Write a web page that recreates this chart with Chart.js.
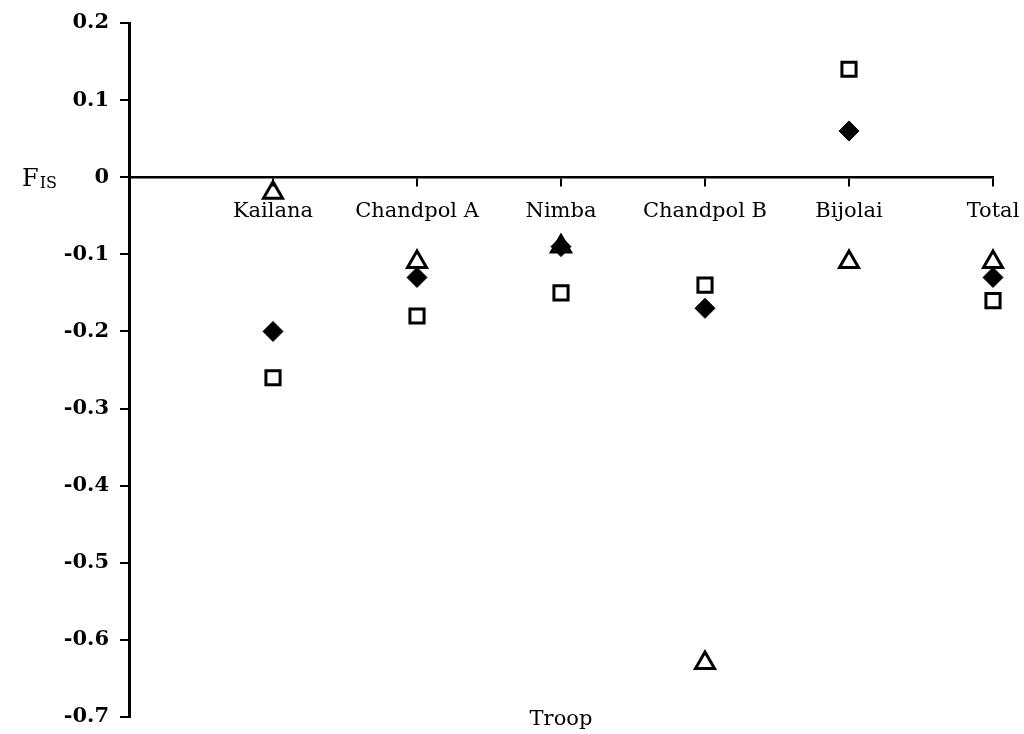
<!DOCTYPE html>
<html>
<head>
<meta charset="utf-8">
<script src="https://cdn.jsdelivr.net/npm/chart.js@4/dist/chart.umd.min.js"></script>
<style>
  body { margin: 0; background: #fff; }
  #wrap { width: 1024px; height: 734px; }
</style>
</head>
<body>
<div id="wrap"><canvas id="chart" width="1024" height="734"></canvas></div>
<script>
const troops = ['Kailana', 'Chandpol A', 'Nimba', 'Chandpol B', 'Bijolai', 'Total'];
const diamondValues = [-0.20, -0.13, -0.09, -0.17, 0.06, -0.13];
const squareValues = [-0.26, -0.18, -0.15, -0.14, 0.14, -0.16];
const triangleValues = [-0.02, -0.11, -0.09, -0.63, -0.11, -0.11];
const yTicks = [0.2, 0.1, 0, -0.1, -0.2, -0.3, -0.4, -0.5, -0.6, -0.7];
const yTitle = ['F', 'IS'];
const xTitle = 'Troop';

function toPoints(values) {
  return values.map((v, i) => ({ x: i, y: v }));
}

function formatTick(v) {
  const r = Math.round(v * 10) / 10;
  return r === 0 ? '0' : r.toFixed(1);
}

function noPadding(scale) {
  scale.paddingLeft = 0;
  scale.paddingRight = 0;
  scale.paddingTop = 0;
  scale.paddingBottom = 0;
}

// axis titles: F with subscript IS on the left, Troop at the bottom
const titlesPlugin = {
  id: 'titles',
  afterDraw(chart) {
    const ctx = chart.ctx;
    const area = chart.chartArea;
    const y0 = chart.scales.y.getPixelForValue(0);
    ctx.save();
    ctx.fillStyle = '#000';
    ctx.textBaseline = 'alphabetic';
    ctx.textAlign = 'left';
    ctx.font = '24px "DejaVu Serif"';
    ctx.fillText(yTitle[0], 22, y0 + 9);
    const fw = ctx.measureText(yTitle[0]).width;
    ctx.font = '16px "DejaVu Serif"';
    ctx.fillText(yTitle[1], 22 + fw + 1, y0 + 11);
    ctx.textAlign = 'center';
    ctx.font = '21px "DejaVu Serif"';
    ctx.fillText(xTitle, (area.left + area.right) / 2, area.bottom + 8);
    ctx.restore();
  }
};

const ctx = document.getElementById('chart');

new Chart(ctx, {
  type: 'scatter',
  data: {
    datasets: [
      {
        label: 'diamond',
        data: toPoints(diamondValues),
        clip: false,
        pointStyle: 'rectRot',
        pointRadius: 10,
        pointBackgroundColor: '#000',
        pointBorderColor: '#000',
        pointBorderWidth: 1
      },
      {
        label: 'square',
        data: toPoints(squareValues),
        clip: false,
        pointStyle: 'rect',
        pointRadius: 10,
        pointBackgroundColor: 'rgba(0,0,0,0)',
        pointBorderColor: '#000',
        pointBorderWidth: 3
      },
      {
        label: 'triangle',
        data: toPoints(triangleValues),
        clip: false,
        pointStyle: 'triangle',
        pointRadius: 11,
        pointBackgroundColor: 'rgba(0,0,0,0)',
        pointBorderColor: '#000',
        pointBorderWidth: 3
      }
    ]
  },
  options: {
    responsive: false,
    animation: false,
    layout: { padding: { left: 0, top: 23, right: 31, bottom: 17 } },
    plugins: {
      legend: { display: false },
      tooltip: { enabled: false }
    },
    scales: {
      x: {
        type: 'linear',
        position: { y: 0 },
        min: -1,
        max: 5,
        afterBuildTicks(scale) {
          scale.ticks = troops.map((t, i) => ({ value: i }));
        },
        afterFit: noPadding,
        grid: { drawOnChartArea: false, drawTicks: true, tickLength: 8, color: '#000', lineWidth: 2 },
        border: { display: true, color: '#000', width: 2.5 },
        ticks: {
          padding: 14,
          maxRotation: 0,
          autoSkip: false,
          color: '#000',
          font: { family: '"DejaVu Serif"', size: 21 },
          callback: v => troops[v] ?? ''
        }
      },
      y: {
        type: 'linear',
        min: -0.7,
        max: 0.2,
        afterBuildTicks(scale) {
          scale.ticks = yTicks.map(v => ({ value: v }));
        },
        afterFit(scale) {
          scale.width = 129;
          noPadding(scale);
        },
        grid: { drawOnChartArea: false, drawTicks: true, tickLength: 9, color: '#000', lineWidth: 2 },
        border: { display: true, color: '#000', width: 3 },
        ticks: {
          padding: 11,
          color: '#000',
          font: { family: '"DejaVu Serif"', size: 21, weight: 'bold' },
          callback: v => formatTick(v)
        }
      }
    }
  },
  plugins: [titlesPlugin]
});
</script>
</body>
</html>
